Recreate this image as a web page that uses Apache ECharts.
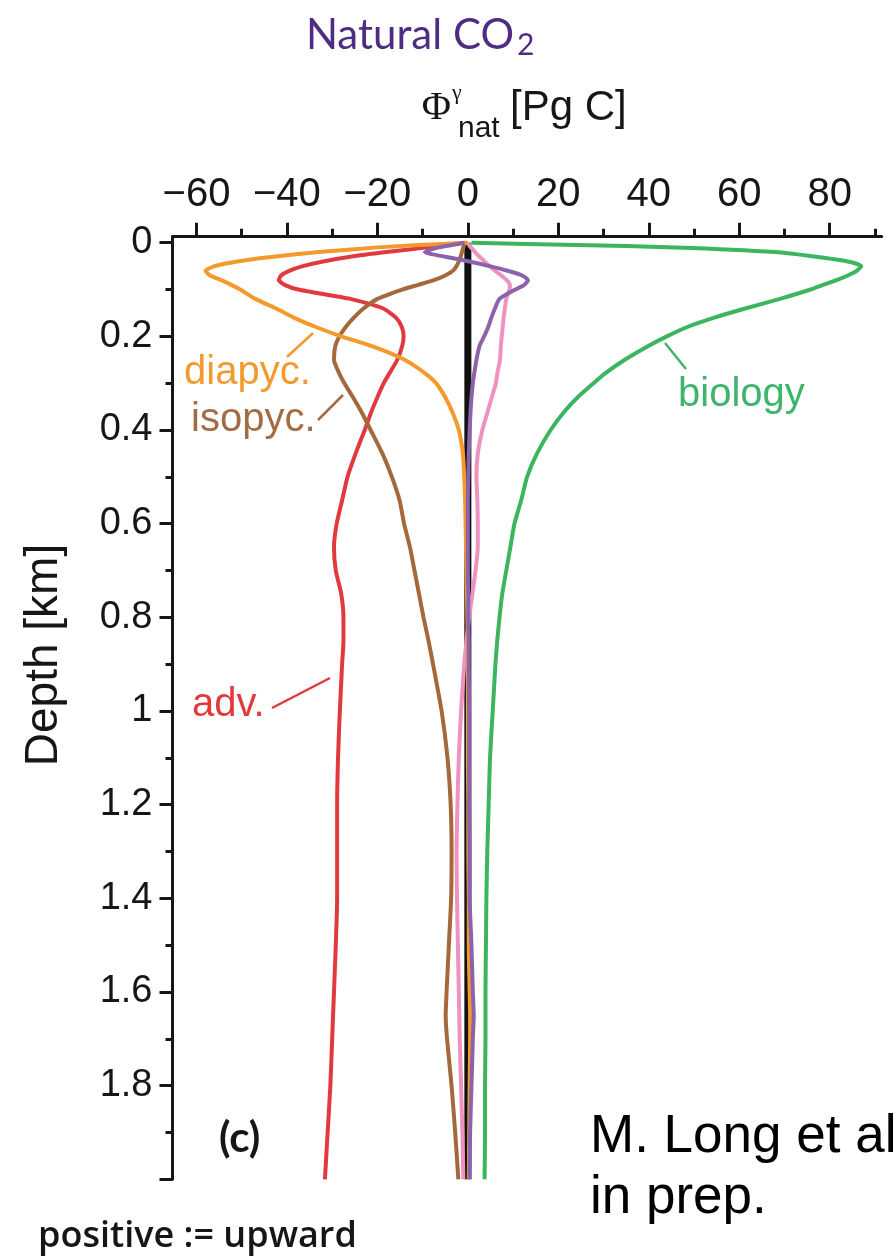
<!DOCTYPE html>
<html>
<head>
<meta charset="utf-8">
<title>Natural CO2</title>
<script src="https://cdn.jsdelivr.net/npm/echarts@6/dist/echarts.min.js"></script>
<style>
  html, body { margin: 0; padding: 0; background: #fff; }
  #main { width: 895px; height: 1256px; }
</style>
</head>
<body>
<div id="main"></div>
<script>
// depth levels [km] shared by all profiles
var depth = [0, 0.005, 0.01, 0.02, 0.03, 0.04, 0.05, 0.06, 0.07, 0.08, 0.09, 0.1,
  0.12, 0.14, 0.16, 0.18, 0.2, 0.22, 0.25, 0.28, 0.3, 0.33, 0.36, 0.4, 0.45, 0.5,
  0.55, 0.6, 0.65, 0.7, 0.75, 0.8, 0.85, 0.9, 1.0, 1.1, 1.2, 1.3, 1.4, 1.5, 1.6,
  1.65, 1.7, 1.8, 1.9, 2.0];

// fluxes [Pg C]
var biology = [0.8, 24, 46, 68, 77, 84, 87, 86, 84, 81.5, 78.5, 75.8,
  69, 61.5, 54.5, 48.5, 44, 40, 34.7, 30.2, 27.8, 24.3, 21.4, 18.3, 15.3, 13.1,
  11.8, 10.3, 9.4, 8.5, 7.6, 7, 6.5, 6.1, 5.5, 4.9, 4.6, 4.3, 4.1, 4.0, 3.9,
  3.9, 3.9, 3.8, 3.8, 3.7];
var diapycnal = [0, -11, -20, -33, -43, -51, -56, -58, -57, -54.5, -52.3, -50.3,
  -47, -42.5, -38.5, -33.6, -28, -21.5, -14, -9.3, -7, -5, -3.5, -2, -1.1, -0.8,
  -0.6, -0.5, -0.4, -0.3, -0.2, -0.1, 0, 0, 0, 0, 0.1, 0.1, 0.2, 0.2, 0.4,
  0.5, 0.5, 0.4, 0.3, 0.2];
var isopycnal = [-0.7, -0.8, -1, -1.3, -1.6, -2, -2.5, -3.3, -5, -7.5, -11, -14.5,
  -20, -23, -25.2, -27, -28.4, -29.3, -29.6, -28.4, -27.3, -25.4, -23.6, -21.5, -18.9, -16.8,
  -15.1, -14.1, -12.8, -11.8, -10.8, -9.8, -8.7, -7.7, -5.8, -4.5, -3.8, -3.6, -3.7, -4.2, -4.7,
  -4.9, -4.6, -3.6, -2.8, -2.1];
var advection = [-1, -5, -9, -18, -26, -32, -36.5, -39.5, -41.3, -41.8, -40.5, -37.5,
  -26, -18.8, -15.9, -14.6, -14.2, -14.5, -15.6, -17.4, -18.6, -20, -21.3, -22.8, -24.8, -26.6,
  -27.8, -29, -29.6, -29.2, -28, -27.5, -27.5, -27.8, -28.3, -28.7, -28.9, -28.9, -28.9, -29.2, -29.6,
  -29.8, -30, -30.4, -31, -31.6];
var purpleTerm = [-0.7, -3.5, -6.5, -9.5, -5, 0.3, 4.8, 8.8, 12, 13.3, 12.5, 10.5,
  7, 6, 5.2, 4.5, 3.6, 2.6, 1.9, 1.4, 1.1, 0.8, 0.6, 0.4, 0.2, 0.1,
  0, 0, 0, 0, 0.1, 0.1, 0.2, 0.2, 0.3, 0.3, 0.3, 0.4, 0.4, 0.8, 1.1,
  1.3, 1.1, 0.8, 0.5, 0.4];
var pinkTerm = [0, 0.3, 0.7, 1.6, 2.6, 3.7, 4.8, 6, 7.4, 8.6, 9.3, 9.2,
  8.5, 8.2, 7.9, 7.7, 7.5, 7.3, 7.1, 6.5, 6.2, 5.3, 4.4, 3.2, 2.2, 1.9,
  2.1, 2.2, 2.2, 1.7, 1.0, 0.3, -0.3, -0.8, -1.5, -2, -2.3, -2.5, -2.4, -2.2, -2,
  -1.9, -1.8, -1.5, -1.2, -1];
var zeroLine = [0, 0];
var zeroDepth = [0, 2];

// ticks
var xMajor = [-60, -40, -20, 0, 20, 40, 60, 80];
var xMinor = [-50, -30, -10, 10, 30, 50, 70, 90];
var yMajor = [0, 0.2, 0.4, 0.6, 0.8, 1, 1.2, 1.4, 1.6, 1.8, 2];
var yLabels = [0, 0.2, 0.4, 0.6, 0.8, 1, 1.2, 1.4, 1.6, 1.8];
var yMinor = [0.1, 0.3, 0.5, 0.7, 0.9, 1.1, 1.3, 1.5, 1.7, 1.9];

function pairs(vals, d) {
  return vals.map(function (v, i) { return [v, d[i]]; });
}

var myChart = echarts.init(document.getElementById('main'));

var ink = '#161616';
var X_MIN = -65.3, X_MAX = 91.5, Y_MIN = -0.0128, Y_MAX = 2.0;

function profile(name, vals, color, width) {
  return {
    name: name,
    type: 'line',
    data: pairs(vals, depth),
    symbol: 'none',
    smooth: 0.2,
    lineStyle: { color: color, width: width || 4 },
    z: 3
  };
}

function txt(text, x, y, size, color, family, align, weight, rotation) {
  return {
    type: 'text', x: x, y: y, rotation: rotation || 0, z: 10,
    style: {
      text: text, x: 0, y: 0,
      fontSize: size,
      fontFamily: family || 'Liberation Sans',
      fontWeight: weight || 'normal',
      fill: color,
      align: align || 'left',
      verticalAlign: 'middle'
    }
  };
}

function lead(x1, y1, x2, y2, color) {
  return {
    type: 'line',
    shape: { x1: x1, y1: y1, x2: x2, y2: y2 },
    style: { stroke: color, lineWidth: 2.5 },
    z: 10
  };
}

option = {
  animation: false,
  backgroundColor: '#fff',
  grid: { left: 172.5, right: 13.3, top: 236.7, bottom: 76.7 },
  xAxis: [{
    type: 'value', position: 'top', min: X_MIN, max: X_MAX,
    axisLine: { show: true, onZero: false, lineStyle: { color: ink, width: 3 } },
    axisTick: { show: true, customValues: xMajor, length: 14, lineStyle: { color: ink, width: 3 } },
    axisLabel: {
      customValues: xMajor, margin: 22, fontSize: 40, color: ink, fontFamily: 'Liberation Sans',
      formatter: function (v) { return v < 0 ? '\u2212' + Math.abs(v) : String(v); }
    },
    splitLine: { show: false }
  }, {
    type: 'value', position: 'top', min: X_MIN, max: X_MAX,
    axisLine: { show: false, onZero: false },
    axisTick: { show: true, customValues: xMinor, length: 8, lineStyle: { color: ink, width: 3 } },
    axisLabel: { show: false },
    splitLine: { show: false }
  }],
  yAxis: [{
    type: 'value', inverse: true, position: 'left', min: Y_MIN, max: Y_MAX,
    axisLine: { show: true, onZero: false, lineStyle: { color: ink, width: 3 } },
    axisTick: { show: true, customValues: yMajor, length: 13, lineStyle: { color: ink, width: 3 } },
    axisLabel: {
      customValues: yLabels, margin: 20, fontSize: 38, color: ink, fontFamily: 'Liberation Sans',
      formatter: function (v) { return String(Math.round(v * 10) / 10); }
    },
    splitLine: { show: false }
  }, {
    type: 'value', inverse: true, position: 'left', min: Y_MIN, max: Y_MAX,
    axisLine: { show: false, onZero: false },
    axisTick: { show: true, customValues: yMinor, length: 7, lineStyle: { color: ink, width: 3 } },
    axisLabel: { show: false },
    splitLine: { show: false }
  }],
  series: [
    {
      name: 'zero', type: 'line', data: pairs(zeroLine, zeroDepth), symbol: 'none',
      lineStyle: { color: '#111', width: 7 }, z: 2
    },
    profile('biology', biology, '#3BB55E'),
    profile('pink', pinkTerm, '#EE93C0'),
    profile('adv.', advection, '#E03A3E'),
    profile('isopyc.', isopycnal, '#A5683A'),
    profile('diapyc.', diapycnal, '#F39A2D'),
    profile('purple', purpleTerm, '#8B62AC')
  ],
  graphic: [
    // title and axis name
    txt('Natural CO', 514, 35, 42, '#4E2C84', 'Lato', 'right'),
    txt('2', 517, 45, 30, '#4E2C84', 'Lato', 'left'),
    txt('\u03A6', 451, 108, 40, ink, 'Liberation Serif', 'right'),
    txt('\u03B3', 452, 93, 22, ink, 'Liberation Serif', 'left'),
    txt('nat', 458, 129, 30, ink, 'Liberation Sans', 'left'),
    txt('[Pg C]', 510, 108, 42, ink, 'Liberation Sans', 'left'),
    txt('Depth [km]', 44, 655, 46, ink, 'Liberation Sans', 'center', 'normal', Math.PI / 2),
    // curve labels
    txt('diapyc.', 184, 373, 40, '#F39A2D'),
    txt('isopyc.', 191, 420, 40, '#A26C45'),
    txt('biology', 678, 395, 40, '#3DB56A'),
    txt('adv.', 192, 705, 40, '#E03A3E'),
    lead(313, 333, 287, 357, '#F39A2D'),
    lead(343, 395, 318, 420, '#A26C45'),
    lead(330, 678, 272, 708, '#E03A3E'),
    lead(665, 343, 686, 369, '#3DB56A'),
    // panel tag and notes
    txt('(c)', 219, 1138, 42, ink, 'Lato', 'left', 'bold'),
    txt('M. Long et al', 590, 1137, 53, '#000', 'Liberation Sans', 'left'),
    txt('in prep.', 590, 1198, 53, '#000', 'Liberation Sans', 'left'),
    txt('positive := upward', 38, 1237, 36, ink, 'Open Sans', 'left', 600)
  ]
};

myChart.setOption(option);
</script>
</body>
</html>
